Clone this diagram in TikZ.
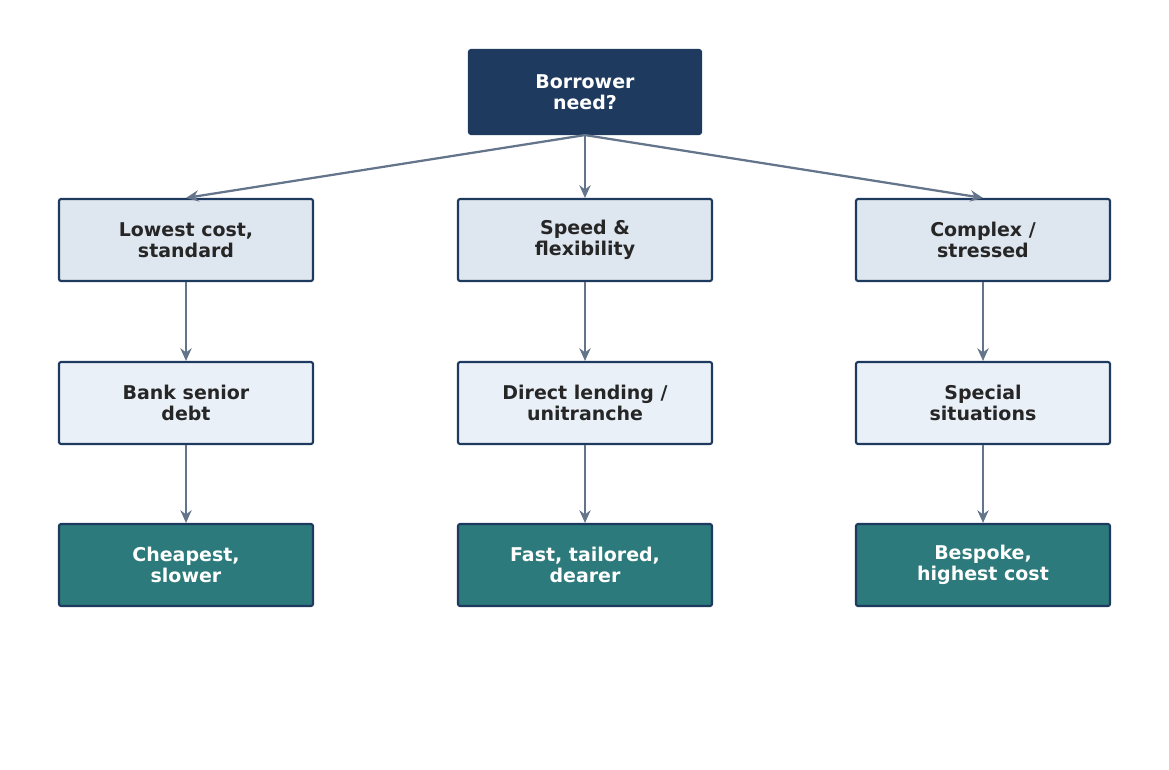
\documentclass[tikz,border=0pt]{standalone}
\usepackage{fontspec}
\setmainfont{DejaVu Sans}
\usetikzlibrary{arrows.meta}
\definecolor{navy}{HTML}{1F3A5F}
\definecolor{paleblue}{HTML}{DEE6EF}
\definecolor{lightblue}{HTML}{EAF0F8}
\definecolor{tealbox}{HTML}{2C7A7B}
\definecolor{linkgray}{HTML}{64748B}
\begin{document}
\begin{tikzpicture}[
    x=0.025cm, y=-0.025cm,
    box/.style={rectangle, draw=navy, line width=1.5pt, rounded corners=1.5pt, minimum width=6.35cm, minimum height=2.05cm, align=center, font=\fontsize{13.5}{15}\selectfont\bfseries, text=black!85},
    root/.style={box, fill=navy, text=white, minimum width=5.8cm, minimum height=2.1cm},
    need/.style={box, fill=paleblue},
    route/.style={box, fill=lightblue},
    result/.style={box, fill=tealbox, text=white},
    arrow/.style={-{Stealth[length=9pt,width=8pt]}, line width=1.6pt, draw=linkgray}
]
\useasboundingbox (0,0) rectangle (1169,769);

% Root
\node[root] (need) at (585,92) {Borrower\\need?};

% Needs
\node[need] (cost) at (186,240) {Lowest cost,\\standard};
\node[need] (speed) at (585,240) {Speed \&\\flexibility};
\node[need] (complex) at (983,240) {Complex /\\stressed};

% Routes
\node[route] (bank) at (186,403) {Bank senior\\debt};
\node[route] (direct) at (585,403) {Direct lending /\\unitranche};
\node[route] (special) at (983,403) {Special\\situations};

% Results
\node[result] (cheap) at (186,565) {Cheapest,\\slower};
\node[result] (fast) at (585,565) {Fast, tailored,\\dearer};
\node[result] (bespoke) at (983,565) {Bespoke,\\highest cost};

% Arrows
\draw[arrow] (need.south) -- (cost.north);
\draw[arrow] (need.south) -- (speed.north);
\draw[arrow] (need.south) -- (complex.north);
\draw[arrow] (cost) -- (bank);
\draw[arrow] (speed) -- (direct);
\draw[arrow] (complex) -- (special);
\draw[arrow] (bank) -- (cheap);
\draw[arrow] (direct) -- (fast);
\draw[arrow] (special) -- (bespoke);

\end{tikzpicture}
\end{document}
